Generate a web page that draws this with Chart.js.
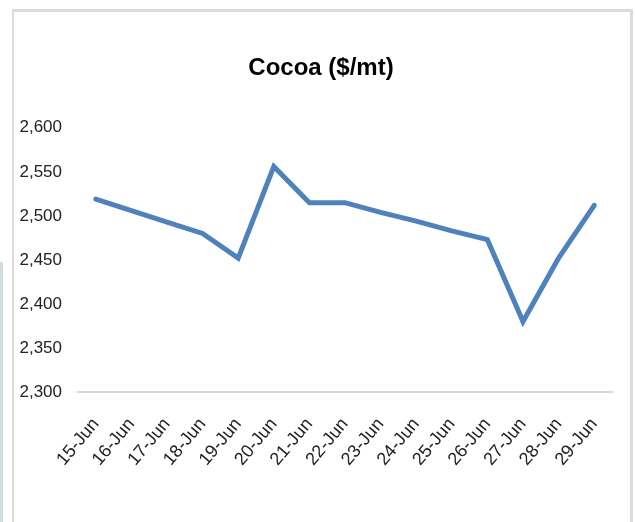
<!DOCTYPE html>
<html>
<head>
<meta charset="utf-8">
<script src="https://cdn.jsdelivr.net/npm/chart.js@4/dist/chart.umd.min.js"></script>
<style>
  html, body { margin: 0; padding: 0; background: #fff; }
  #wrap { position: relative; width: 635px; height: 522px; overflow: hidden; }
  canvas { position: absolute; left: 0; top: 0; }
  .f { position: absolute; background: #dcdcdc; }
</style>
</head>
<body>
<div id="wrap">
  <canvas id="c" width="642" height="522"></canvas>
  <div class="f" style="left:12px; top:9px; width:621px; height:3px;"></div>
  <div class="f" style="left:12px; top:9px; width:2px; height:513px;"></div>
  <div class="f" style="left:630px; top:9px; width:3px; height:513px;"></div>
  <div class="f" style="left:0px; top:262px; width:3px; height:260px; background:#cfdbde;"></div>
</div>
<script>
const categories = ["15-Jun","16-Jun","17-Jun","18-Jun","19-Jun","20-Jun","21-Jun","22-Jun","23-Jun","24-Jun","25-Jun","26-Jun","27-Jun","28-Jun","29-Jun"];
const cocoaValues = [2519, 2506, 2493, 2480, 2452, 2556, 2515, 2515, 2504, 2494, 2483, 2473, 2380, 2452, 2512];
const yMin = 2300, yMax = 2600, yStep = 50;

const yTickFont = { family: "'Liberation Sans', Arial, sans-serif", size: 17 };
const xTickFont = { family: "'Liberation Sans', Arial, sans-serif", size: 18 };

new Chart(document.getElementById('c'), {
  type: 'line',
  data: {
    labels: categories,
    datasets: [{
      label: 'Cocoa ($/mt)',
      data: cocoaValues,
      borderColor: '#4f81bd',
      borderWidth: 5,
      pointRadius: 0,
      tension: 0,
      borderJoinStyle: 'miter',
      borderCapStyle: 'round',
      fill: false,
      yAxisID: 'y'
    }]
  },
  options: {
    responsive: false,
    animation: false,
    layout: { padding: { left: 0, right: 0, top: 0, bottom: 0 } },
    plugins: {
      legend: { display: false },
      tooltip: { enabled: false },
      title: {
        display: true,
        text: 'Cocoa ($/mt)',
        color: '#000',
        font: { family: "'Liberation Sans', Arial, sans-serif", size: 24, weight: 'bold', lineHeight: 1.2 },
        padding: { top: 54, bottom: 45 }
      }
    },
    scales: {
      x: {
        offset: true,
        grid: { display: false, drawTicks: false },
        border: { display: true, color: '#d9d9d9', width: 2 },
        ticks: { color: '#222', font: xTickFont, minRotation: 50, maxRotation: 50, padding: 22, autoSkip: false },
        afterFit: (s) => { s.height = 130; }
      },
      y: {
        min: yMin, max: yMax,
        grid: { display: false, drawTicks: false },
        border: { display: false },
        ticks: {
          stepSize: yStep, color: '#222', font: yTickFont, padding: 16,
          callback: (v) => v.toLocaleString('en-US')
        },
        afterFit: (s) => { s.width = 78; }
      },
      yRightSpace: {
        type: 'linear',
        position: 'right',
        min: yMin, max: yMax,
        grid: { display: false, drawTicks: false },
        border: { display: false },
        ticks: { display: false },
        afterFit: (s) => { s.width = 30; }
      }
    }
  }
});
</script>
</body>
</html>
